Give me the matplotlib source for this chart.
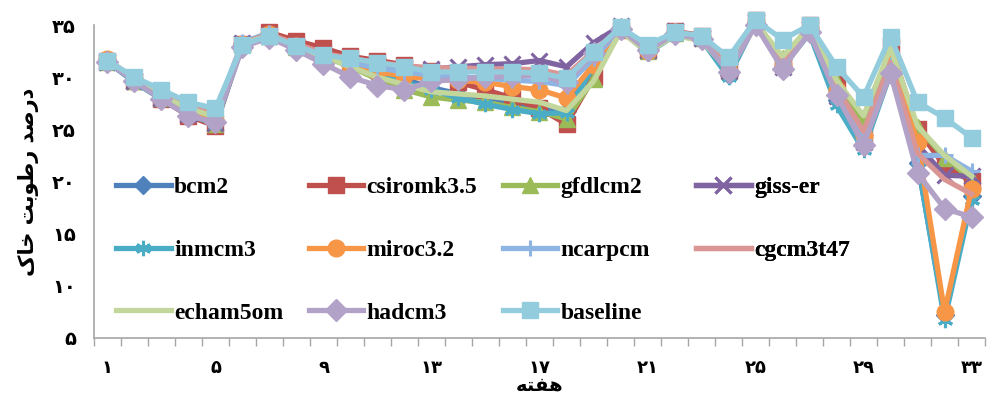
import numpy as np
import matplotlib.pyplot as plt
from matplotlib.ticker import FixedLocator

# weeks 1..33
weeks = np.arange(1, 34)

bcm2 = [31.5, 29.6, 28.0, 26.5, 25.6, 33.2, 34.0, 32.9, 31.9, 31.2, 30.4, 29.8, 29.0, 28.4, 27.9, 27.5, 27.0,
        26.8, 31.2, 34.6, 32.4, 34.1, 33.7, 30.2, 35.2, 31.0, 34.3, 27.8, 23.6, 30.6, 21.8, 7.2, 18.6]
csiromk35 = [31.6, 29.6, 27.9, 26.3, 25.3, 33.2, 34.3, 33.5, 32.8, 32.0, 31.6, 31.2, 30.6, 29.5, 28.8, 28.0, 27.0,
             25.5, 30.0, 34.5, 32.6, 34.4, 34.0, 30.8, 35.5, 31.3, 35.0, 29.8, 24.5, 33.0, 25.0, 21.5, 20.0]
gfdlcm2 = [31.5, 29.6, 28.0, 26.6, 25.5, 33.2, 34.0, 32.9, 32.0, 31.0, 29.8, 28.8, 28.1, 27.8, 27.6, 27.1, 26.7,
           26.0, 29.8, 34.6, 32.5, 34.2, 33.8, 30.6, 35.3, 31.8, 34.8, 29.5, 25.8, 32.5, 25.2, 22.3, 20.2]
gisser = [31.5, 29.6, 28.0, 26.5, 25.6, 33.3, 34.0, 33.0, 32.0, 31.5, 31.2, 30.9, 30.8, 31.0, 31.2, 31.3, 31.6,
          31.0, 33.3, 34.9, 32.6, 34.4, 33.8, 30.6, 35.3, 31.0, 34.6, 28.2, 23.8, 30.5, 23.5, 20.6, 20.5]
inmcm3 = [31.5, 29.5, 27.9, 26.4, 25.5, 33.0, 34.0, 32.9, 31.9, 31.2, 30.2, 29.5, 28.8, 28.0, 27.4, 26.9, 26.5,
          26.6, 31.0, 34.6, 32.3, 34.0, 33.6, 30.0, 35.2, 31.0, 34.2, 27.3, 23.0, 30.4, 22.0, 6.7, 18.2]
miroc32 = [31.7, 29.8, 28.2, 26.8, 25.9, 33.2, 34.1, 33.0, 32.0, 31.2, 30.5, 30.1, 29.8, 29.7, 29.5, 29.1, 28.8,
           28.0, 31.2, 34.7, 32.5, 34.3, 33.9, 30.6, 35.3, 31.3, 34.7, 28.8, 24.4, 31.5, 23.8, 7.5, 19.3]
ncarpcm = [31.6, 29.8, 28.4, 27.3, 26.6, 33.4, 34.2, 33.0, 32.0, 31.4, 30.9, 30.5, 30.2, 30.0, 29.9, 29.7, 29.6,
           29.2, 31.8, 34.6, 32.7, 34.3, 33.8, 30.6, 35.3, 31.4, 34.6, 28.5, 24.0, 31.2, 22.5, 22.5, 21.0]
cgcm3t47 = [31.6, 29.8, 28.3, 27.2, 26.4, 33.3, 34.1, 33.2, 32.3, 31.8, 31.4, 31.1, 30.9, 30.9, 30.8, 30.8, 30.7,
            30.2, 32.5, 34.7, 32.8, 34.3, 33.9, 30.8, 35.3, 31.5, 34.8, 29.0, 24.8, 31.4, 22.7, 20.2, 18.8]
echam5om = [31.5, 29.7, 28.2, 27.0, 26.2, 33.2, 34.0, 32.9, 32.0, 31.0, 30.0, 29.3, 28.6, 28.4, 28.2, 27.9, 27.6,
            26.8, 29.6, 34.4, 32.4, 34.0, 33.5, 30.7, 35.2, 32.0, 34.8, 29.7, 26.3, 32.8, 25.3, 22.5, 20.5]
hadcm3 = [31.5, 29.6, 27.9, 26.3, 25.7, 32.9, 33.8, 32.6, 31.3, 30.0, 29.2, 28.8, 29.6, 29.8, 30.0, 30.1, 30.2,
          29.5, 32.3, 34.6, 32.6, 34.1, 33.7, 30.5, 35.0, 30.8, 34.3, 28.3, 23.5, 30.4, 20.8, 17.4, 16.6]
baseline = [31.6, 30.0, 28.8, 27.6, 27.0, 33.1, 34.0, 33.0, 32.1, 31.8, 31.4, 31.0, 30.5, 30.5, 30.5, 30.5, 30.4,
            29.9, 32.4, 34.8, 33.1, 34.3, 34.0, 31.9, 35.5, 33.6, 35.0, 31.0, 28.1, 33.9, 27.6, 26.1, 24.2]

names = ['bcm2', 'csiromk3.5', 'gfdlcm2', 'giss-er', 'inmcm3', 'miroc3.2',
         'ncarpcm', 'cgcm3t47', 'echam5om', 'hadcm3', 'baseline']
series = [bcm2, csiromk35, gfdlcm2, gisser, inmcm3, miroc32,
          ncarpcm, cgcm3t47, echam5om, hadcm3, baseline]
colors = ['#4F81BD', '#C0504D', '#9BBB59', '#8064A2', '#4BACC6', '#F79646',
          '#8EB4E3', '#D99694', '#C3D69B', '#B3A2C7', '#93CDDD']
markers = ['D', 's', '^', 'x', (6, 2, 0), 'o', '+', None, None, 'D', 's']
msizes = [9, 11, 11, 11, 11, 12, 11, 0, 0, 11, 11]

persian = str.maketrans('0123456789', '۰۱۲۳۴۵۶۷۸۹')
xtick_vals = [1, 5, 9, 13, 17, 21, 25, 29, 33]
ytick_vals = [5, 10, 15, 20, 25, 30, 35]

# Persian labels written in visual (shaped) order
xlabel_txt = '\uFEEA\uFE98\uFED4\uFEEB'
ylabel_txt = '\u06A9\uFE8E\uFEA7 \uFE96\uFE91\uFEEE\uFEC3\uFEAD \uFEAA\uFEBB\uFEAD\uFEA9'

fig = plt.figure(figsize=(9.89, 3.98), dpi=100)
ax = fig.add_axes([0.095, 0.151, 0.901, 0.786])

lines = []
for vals, name, c, m, ms in zip(series, names, colors, markers, msizes):
    ln, = ax.plot(weeks, vals, color=c, lw=3.8, marker=m, markersize=ms,
                  markeredgewidth=2.2 if m in ('x', '+', (6, 2, 0)) else 1,
                  markeredgecolor=c, label=name, clip_on=False, solid_joinstyle='round')
    lines.append(ln)

ax.set_xlim(0.5, 33.5)
ax.set_ylim(5, 35)

ax.xaxis.set_major_locator(FixedLocator(xtick_vals))
ax.xaxis.set_minor_locator(FixedLocator(np.arange(0.5, 34, 1)))
ax.set_xticklabels([str(v).translate(persian) for v in xtick_vals],
                   fontsize=13, fontweight='bold', family='DejaVu Sans')
ax.tick_params(axis='x', which='major', length=0, pad=15)
ax.tick_params(axis='x', which='minor', length=6, color='#A6A6A6', width=1)

ax.set_yticks(ytick_vals)
ax.set_yticklabels([str(v).translate(persian) for v in ytick_vals],
                   fontsize=14, fontweight='bold', family='DejaVu Sans')
ax.tick_params(axis='y', length=0, pad=13)

for s in ['top', 'right']:
    ax.spines[s].set_visible(False)
for s in ['left', 'bottom']:
    ax.spines[s].set_color('#A6A6A6')
    ax.spines[s].set_linewidth(1.2)

ax.set_xlabel(xlabel_txt, fontsize=14, fontweight='bold', family='DejaVu Sans', va='center')
ax.xaxis.set_label_coords(0.5, -0.15)
ax.set_ylabel(ylabel_txt, fontsize=15, fontweight='bold', family='DejaVu Sans')
ax.yaxis.set_label_coords(-0.062, 0.5)

# legend laid out row by row in 4 equal-width columns
col_x = [0.025, 0.241, 0.459, 0.676]
for ci in range(4):
    idx = list(range(ci, len(lines), 4))
    leg = ax.legend([lines[i] for i in idx], [names[i] for i in idx],
                    loc='upper left', bbox_to_anchor=(col_x[ci], 0.515),
                    frameon=False, borderpad=0, borderaxespad=0,
                    handlelength=2.3, handletextpad=0.15, labelspacing=1.74,
                    prop={'family': 'Liberation Serif', 'weight': 'bold', 'size': 17})
    ax.add_artist(leg)

fig.savefig('out.png', dpi=100)
